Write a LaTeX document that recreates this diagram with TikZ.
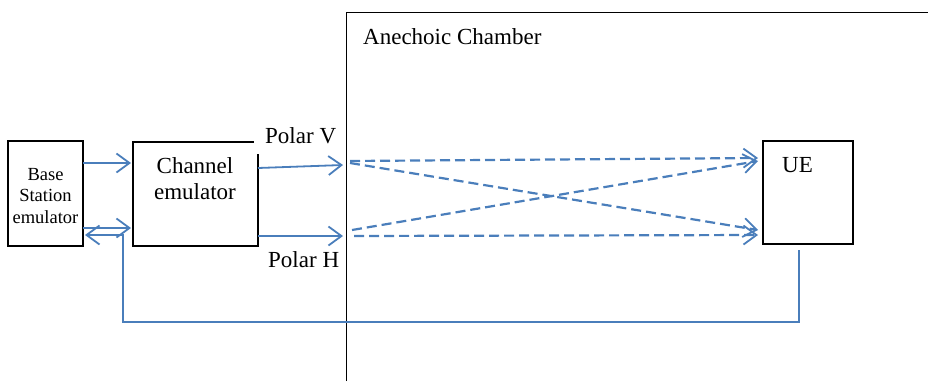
\documentclass[tikz,border=0pt]{standalone}
\usepackage{fontspec}
\setmainfont{Liberation Serif}
\usetikzlibrary{arrows.meta}
\definecolor{lnblue}{HTML}{4A7EBB}
\tikzset{
  box/.style={draw=black, line width=1.4pt, inner sep=0pt},
  conn/.style={draw=lnblue, line width=1.8pt, -{Straight Barb[length=13pt,width=19pt,line width=1.8pt]}},
  dconn/.style={draw=lnblue, line width=2.2pt, dash pattern=on 10pt off 5pt, -{Straight Barb[length=13pt,width=19pt,line width=1.8pt]}},
  lbl/.style={font=\fontsize{23}{27}\selectfont, inner sep=0pt, anchor=base west},
}
\begin{document}
\begin{tikzpicture}[x=1pt,y=-1pt]
\useasboundingbox (0,0) rectangle (928,381);
% chamber
\draw[line width=1.4pt] (346.5,381) -- (346.5,12.5) -- (928,12.5);
\node[lbl] (ac) at (363,44) {Anechoic Chamber};
% boxes
\draw[box] (8,141) rectangle (83,246);
\node[font=\fontsize{18.5}{21.5}\selectfont, align=center, inner sep=0pt] (bs) at (45.5,196) {Base\\Station\\emulator};
\draw[box] (133,142) rectangle (258,246);
\node[font=\fontsize{23}{26}\selectfont, align=center, inner sep=0pt] (ce) at (195,179) {Channel\\emulator};
\draw[box] (763,141) rectangle (853,244);
\node[lbl] (ue) at (782,172) {UE};
% labels
\fill[white] (254,118) rectangle (340,154);
\node[lbl] (pv) at (265,143) {Polar V};
\node[lbl] (ph) at (268,267) {Polar H};
% named endpoints
\coordinate (bsT) at (83,163);
\coordinate (ceT) at (131,163);
\coordinate (bsB) at (83,228);
\coordinate (ceB) at (131,228);
\coordinate (ceV) at (258,168);
\coordinate (chV) at (343,165);
\coordinate (ceH) at (258,236);
\coordinate (chH) at (343,236);
\coordinate (ueB) at (799,250);
\coordinate (r1) at (799,322);
\coordinate (r2) at (123,322);
\coordinate (r3) at (123,235);
\coordinate (bsR) at (85,235);
\coordinate (vs1) at (350,161);
\coordinate (vs2) at (350,163);
\coordinate (hs1) at (352,230);
\coordinate (hs2) at (354,236);
\coordinate (ut1) at (758,158);
\coordinate (ut2) at (758,161);
\coordinate (ub1) at (758,230);
\coordinate (ub2) at (758,235);
% connectors
\draw[conn] (bsT) -- (ceT);
\draw[conn] (bsB) -- (ceB);
\draw[conn] (ceV) -- (chV);
\draw[conn] (ceH) -- (chH);
\draw[conn] (ueB) -- (r1) -- (r2) -- (r3) -- (bsR);
\draw[dconn] (vs1) -- (ut1);
\draw[dconn] (vs2) -- (ub1);
\draw[dconn] (hs1) -- (ut2);
\draw[dconn] (hs2) -- (ub2);
\end{tikzpicture}
\end{document}
